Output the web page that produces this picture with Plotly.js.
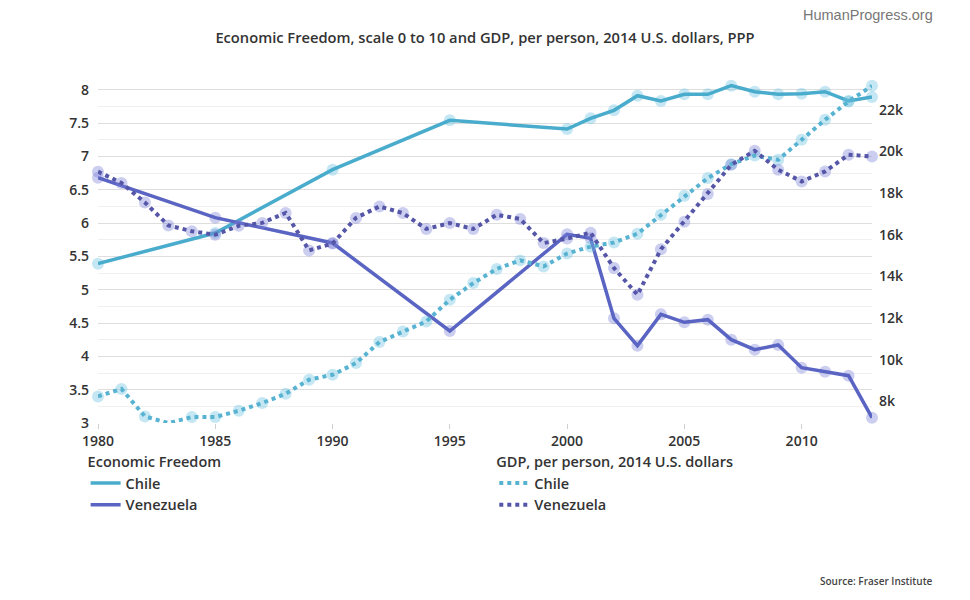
<!DOCTYPE html>
<html>
<head>
<meta charset="utf-8">
<script src="https://cdn.plot.ly/plotly-3.0.1.min.js"></script>
<style>
html,body{margin:0;padding:0;background:#fff;}
#chart{width:970px;height:600px;}
</style>
</head>
<body>
<div id="chart"></div>
<script>
// Economic Freedom (scale 0-10) years
const efYears = [1980, 1985, 1990, 1995, 2000, 2001, 2002, 2003, 2004, 2005, 2006, 2007, 2008, 2009, 2010, 2011, 2012, 2013];
const efChile = [5.39, 5.85, 6.80, 7.54, 7.41, 7.57, 7.69, 7.91, 7.83, 7.93, 7.93, 8.06, 7.97, 7.93, 7.94, 7.97, 7.83, 7.89];
const efVenezuela = [6.68, 6.08, 5.70, 4.38, 5.83, 5.77, 4.57, 4.16, 4.63, 4.51, 4.55, 4.25, 4.10, 4.17, 3.83, 3.77, 3.71, 3.08];

// GDP per person, 2014 U.S. dollars, PPP
const gdpYears = [1980, 1981, 1982, 1983, 1984, 1985, 1986, 1987, 1988, 1989, 1990, 1991, 1992, 1993, 1994, 1995, 1996, 1997, 1998, 1999, 2000, 2001, 2002, 2003, 2004, 2005, 2006, 2007, 2008, 2009, 2010, 2011, 2012, 2013];
const gdpChile = [8240, 8600, 7280, 6960, 7250, 7250, 7550, 7920, 8370, 9040, 9280, 9840, 10850, 11360, 11840, 12880, 13680, 14360, 14770, 14480, 15100, 15430, 15630, 16050, 16960, 17870, 18720, 19390, 19800, 19600, 20560, 21520, 22400, 23150];
const gdpVenezuela = [19030, 18490, 17550, 16450, 16170, 16000, 16430, 16570, 17050, 15250, 15580, 16810, 17360, 17040, 16280, 16560, 16280, 16960, 16760, 15600, 15820, 16100, 14400, 13120, 15300, 16630, 17960, 19360, 20030, 19120, 18560, 19040, 19840, 19760];

const groupEF = 'Economic Freedom';
const groupGDP = 'GDP, per person, 2014 U.S. dollars';
const countries = ['Chile', 'Venezuela'];

const cChile = '#4aaccd';
const cChileDot = '#57b3d1';
const cVen = '#5a64c2';
const cVenDot = '#5556a8';
const haloChile = 'rgba(110,195,225,0.40)';
const haloVen = 'rgba(120,125,215,0.38)';

const FONT = 'Open Sans, Noto Sans, sans-serif';

function lineTrace(x, y, name, color, dash, axis, legend) {
  return {x: x, y: y, name: name, type: 'scatter', mode: 'lines',
    line: {color: color, width: dash === 'solid' ? 3.5 : 4, dash: dash},
    yaxis: axis, legend: legend, hoverinfo: 'x+y'};
}
function haloTrace(x, y, color, axis) {
  return {x: x, y: y, type: 'scatter', mode: 'markers', showlegend: false,
    marker: {size: 12, color: color, line: {width: 0}}, yaxis: axis, cliponaxis: false, hoverinfo: 'skip'};
}

const data = [
  haloTrace(gdpYears, gdpChile, haloChile, 'y2'),
  haloTrace(gdpYears, gdpVenezuela, haloVen, 'y2'),
  haloTrace(efYears, efChile, haloChile, 'y'),
  haloTrace(efYears, efVenezuela, haloVen, 'y'),
  lineTrace(gdpYears, gdpChile, countries[0], cChileDot, 'dot', 'y2', 'legend2'),
  lineTrace(gdpYears, gdpVenezuela, countries[1], cVenDot, 'dot', 'y2', 'legend2'),
  lineTrace(efYears, efChile, countries[0], cChile, 'solid', 'y', 'legend'),
  lineTrace(efYears, efVenezuela, countries[1], cVen, 'solid', 'y', 'legend')
];

const tickFont = {family: FONT, size: 14, color: '#333', weight: 600};
const legFont = {family: FONT, size: 14.5, color: '#333', weight: 600};

const layout = {
  width: 970, height: 600,
  margin: {l: 98, r: 98, t: 83.3, b: 176.7},
  paper_bgcolor: '#fff', plot_bgcolor: '#fff',
  font: {family: FONT, color: '#333'},
  title: {text: 'Economic Freedom, scale 0 to 10 and GDP, per person, 2014 U.S. dollars, PPP',
    font: {family: FONT, size: 14.7, color: '#333', weight: 600},
    x: 0.5, xref: 'container', xanchor: 'center', y: 1 - 38/600, yref: 'container', yanchor: 'middle'},
  xaxis: {range: [1980, 2013], dtick: 5, tick0: 1980, showgrid: false, zeroline: false,
    showline: false, ticks: 'outside', ticklen: 5, tickcolor: '#d0d0d0', tickfont: tickFont, fixedrange: true},
  yaxis: {range: [3, 8.1], dtick: 0.5, tick0: 3, showgrid: true, gridcolor: '#dedede', gridwidth: 1,
    zeroline: false, showline: false, ticks: '', tickfont: tickFont, ticklabelstandoff: 8,
    minor: {dtick: 0.25, tick0: 3, showgrid: true, gridcolor: '#f0f0f0', gridwidth: 1},
    fixedrange: true},
  yaxis2: {overlaying: 'y', side: 'right', range: [6963, 23286], tickvals: [8000, 10000, 12000, 14000, 16000, 18000, 20000, 22000],
    tickformat: '~s', showgrid: false, zeroline: false, showline: false, ticks: '', tickfont: tickFont,
    ticklabelstandoff: 6, fixedrange: true},
  legend: {x: -0.016, xanchor: 'left', y: -0.074, yanchor: 'top', orientation: 'v',
    title: {text: groupEF, font: legFont},
    font: legFont, bgcolor: 'rgba(0,0,0,0)', itemwidth: 30, tracegroupgap: 0},
  legend2: {x: 0.512, xanchor: 'left', y: -0.074, yanchor: 'top', orientation: 'v',
    title: {text: groupGDP, font: legFont},
    font: legFont, bgcolor: 'rgba(0,0,0,0)', itemwidth: 30, tracegroupgap: 0},
  annotations: [
    {text: 'HumanProgress.org', xref: 'paper', yref: 'paper', x: (935-98)/774, y: (423.3-15)/340,
      xanchor: 'right', yanchor: 'middle', showarrow: false,
      font: {family: 'Liberation Sans, Arial, sans-serif', size: 14.5, color: '#777'}},
    {text: 'Source: Fraser Institute', xref: 'paper', yref: 'paper', x: (935-98)/774, y: (423.3-581)/340,
      xanchor: 'right', yanchor: 'middle', showarrow: false,
      font: {family: FONT, size: 10, color: '#444', weight: 600}}
  ],
  showlegend: true
};

Plotly.newPlot('chart', data, layout, {displayModeBar: false, staticPlot: true});
</script>
</body>
</html>
